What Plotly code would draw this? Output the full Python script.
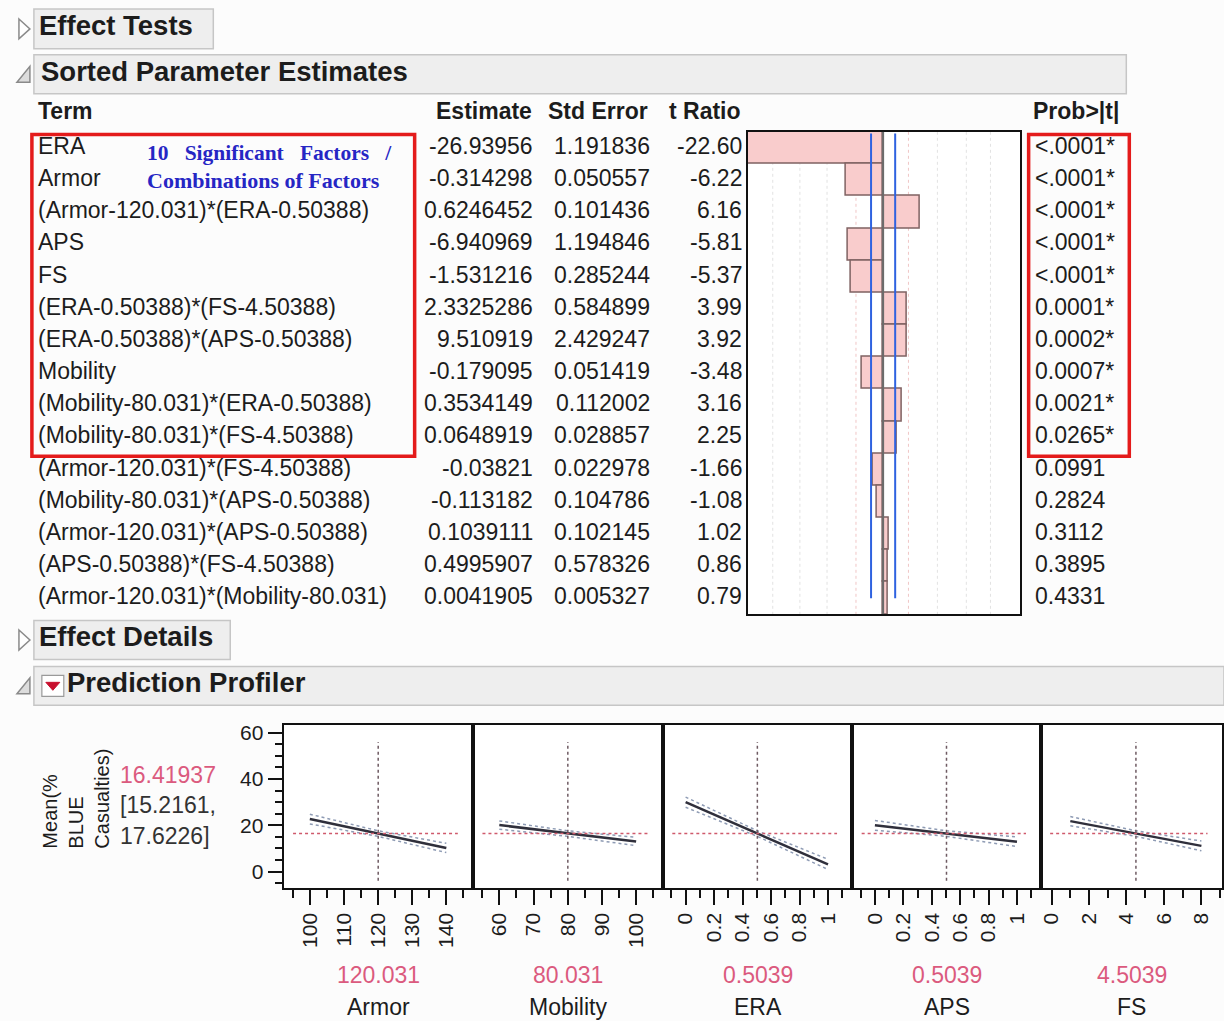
import plotly.graph_objects as go

W, H = 1224, 1021


def X(p):
    return p / W


def Y(p):
    return 1 - p / H


# ------------------------------------------------------------------ data
terms = ["ERA", "Armor", "(Armor-120.031)*(ERA-0.50388)", "APS", "FS",
         "(ERA-0.50388)*(FS-4.50388)", "(ERA-0.50388)*(APS-0.50388)", "Mobility",
         "(Mobility-80.031)*(ERA-0.50388)", "(Mobility-80.031)*(FS-4.50388)",
         "(Armor-120.031)*(FS-4.50388)", "(Mobility-80.031)*(APS-0.50388)",
         "(Armor-120.031)*(APS-0.50388)", "(APS-0.50388)*(FS-4.50388)",
         "(Armor-120.031)*(Mobility-80.031)"]
estimates = ["-26.93956", "-0.314298", "0.6246452", "-6.940969", "-1.531216",
             "2.3325286", "9.510919", "-0.179095", "0.3534149", "0.0648919",
             "-0.03821", "-0.113182", "0.1039111", "0.4995907", "0.0041905"]
std_errors = ["1.191836", "0.050557", "0.101436", "1.194846", "0.285244",
              "0.584899", "2.429247", "0.051419", "0.112002", "0.028857",
              "0.022978", "0.104786", "0.102145", "0.578326", "0.005327"]
t_ratios = [-22.60, -6.22, 6.16, -5.81, -5.37, 3.99, 3.92, -3.48, 3.16, 2.25,
            -1.66, -1.08, 1.02, 0.86, 0.79]
p_values = ["<.0001*", "<.0001*", "<.0001*", "<.0001*", "<.0001*", "0.0001*",
            "0.0002*", "0.0007*", "0.0021*", "0.0265*", "0.0991", "0.2824",
            "0.3112", "0.3895", "0.4331"]
t_critical = [-2.0, 2.0]
ref_t = [-18.3, -13.8, -9.3, -4.5, 4.2, 9.0, 13.8, 17.8]

factors = ["Armor", "Mobility", "ERA", "APS", "FS"]
current_x = [120.031, 80.031, 0.50388, 0.50388, 4.50388]
current_txt = ["120.031", "80.031", "0.5039", "0.5039", "4.5039"]
x_low = [100, 60, 0, 0, 1]
x_high = [140, 100, 1, 1, 8]
mean_low = [22.7, 20.1, 30.0, 20.0, 21.8]
mean_high = [10.2, 13.0, 3.1, 12.9, 11.1]
ci_low_low = [20.6, 18.3, 27.8, 17.9, 19.8]
ci_low_high = [8.2, 11.2, 0.9, 10.8, 9.0]
ci_high_low = [24.8, 21.9, 32.2, 22.1, 23.8]
ci_high_high = [12.2, 14.8, 5.3, 15.0, 13.2]
pred_mean = 16.41937
pred_ci = [15.2161, 17.6226]
x_ticks = [[100, 110, 120, 130, 140], [60, 70, 80, 90, 100],
           [0, 0.2, 0.4, 0.6, 0.8, 1], [0, 0.2, 0.4, 0.6, 0.8, 1], [0, 2, 4, 6, 8]]
x_ticktext = [["100", "110", "120", "130", "140"], ["60", "70", "80", "90", "100"],
              ["0", "0.2", "0.4", "0.6", "0.8", "1"], ["0", "0.2", "0.4", "0.6", "0.8", "1"],
              ["0", "2", "4", "6", "8"]]
x_minor = [5, 5, 0.1, 0.1, 1]
x_ranges = [[92.3, 147.8], [52.3, 107.8], [-0.16, 1.17], [-0.16, 1.17], [-0.56, 9.1]]
y_ticks = [0, 20, 40, 60]
y_range = [-6.9, 63.3]
panel_edges = [282.5, 472.5, 663, 853, 1042.5, 1224]

# ------------------------------------------------------------------ style
FONT = "Liberation Sans, Arial, sans-serif"
INK = "#1c1c1c"
PINK = "#db5a7e"
RED = "#e41b1b"
BODY = 23

fig = go.Figure()
ann = []
shapes = []


def text(x, y, s, size=BODY, color=INK, bold=False, xanchor="left", xref="paper",
         yref="paper", family=FONT, **kw):
    if bold:
        s = "<b>" + s + "</b>"
    ann.append(dict(x=x, y=y, xref=xref, yref=yref, text=s, showarrow=False,
                    xanchor=xanchor, yanchor="middle",
                    font=dict(size=size, color=color, family=family), **kw))


def header(x0, x1, y0, y1, label, tx, closed):
    shapes.append(dict(type="rect", xref="paper", yref="paper", x0=X(x0), x1=X(x1),
                       y0=Y(y1), y1=Y(y0), fillcolor="#eeeeee",
                       line=dict(color="#c6c6c6", width=1.5), layer="below"))
    ym = (y0 + y1) / 2
    if closed:
        path = "M {} {} L {} {} L {} {} Z".format(X(17), Y(ym - 10), X(28), Y(ym), X(17), Y(ym + 10))
        shapes.append(dict(type="path", xref="paper", yref="paper", path=path,
                           fillcolor="white", line=dict(color="#8a8a8a", width=1.5)))
    else:
        path = "M {} {} L {} {} L {} {} Z".format(X(15), Y(ym + 8), X(28), Y(ym + 8), X(28), Y(ym - 8))
        shapes.append(dict(type="path", xref="paper", yref="paper", path=path,
                           fillcolor="#dcdcdc", line=dict(color="#8a8a8a", width=1.5)))
    text(X(tx), Y(ym), label, size=27.5, bold=True, yshift=3)


header(32, 212, 5, 45, "Effect Tests", 35, True)
header(32, 1128, 51, 90, "Sorted Parameter Estimates", 37, False)
header(32, 229, 619, 658, "Effect Details", 35, True)
header(32, 1226, 665, 704, "Prediction Profiler", 63, False)

# dropdown icon
shapes.append(dict(type="rect", xref="paper", yref="paper", x0=X(40), x1=X(62), y0=Y(695), y1=Y(674),
                   fillcolor="white", line=dict(color="#9a9a9a", width=1.2)))
shapes.append(dict(type="path", xref="paper", yref="paper",
                   path="M {} {} L {} {} L {} {} Z".format(X(44), Y(681), X(58), Y(681), X(51), Y(689)),
                   fillcolor="#c8102e", line=dict(color="#c8102e", width=1)))

# ------------------------------------------------------------------ table
text(X(34), Y(110), "Term", bold=True, yshift=3)
text(X(534), Y(110), "Estimate", bold=True, xanchor="right", yshift=3)
text(X(650), Y(110), "Std Error", bold=True, xanchor="right", yshift=3)
text(X(743), Y(110), "t Ratio", bold=True, xanchor="right", yshift=3)
text(X(1032), Y(110), "Prob>|t|", bold=True, yshift=3)

for i in range(len(terms)):
    text(X(34), i, terms[i], yref="y", yshift=2)
    text(X(535), i, estimates[i], yref="y", xanchor="right", yshift=2)
    text(X(652), i, std_errors[i], yref="y", xanchor="right", yshift=2)
    text(X(744), i, "{:.2f}".format(t_ratios[i]), yref="y", xanchor="right", yshift=2)
    text(X(1034), i, p_values[i], yref="y", yshift=2)

# bar chart of t ratios
for r in ref_t:
    shapes.append(dict(type="line", xref="x", yref="y", x0=r, x1=r, y0=-0.5, y1=14.5,
                       line=dict(color="#f0c6c6" if abs(r) < 5 else "#e2e2e2", width=1, dash="dot"),
                       layer="below"))
fig.add_trace(go.Bar(x=t_ratios, y=list(range(len(t_ratios))), orientation="h", width=1.0,
                     marker=dict(color="#f9cccc", line=dict(color="#7f6262", width=1.5)),
                     xaxis="x", yaxis="y", hoverinfo="skip"))
shapes.append(dict(type="line", xref="x", yref="y", x0=0, x1=0, y0=-0.5, y1=14.5,
                   line=dict(color="#6b6b6b", width=2)))
for tc in t_critical:
    shapes.append(dict(type="line", xref="x", yref="y", x0=tc, x1=tc, y0=-0.45, y1=14.0,
                       line=dict(color="#2f62e0", width=2)))

# red highlight boxes and note
shapes.append(dict(type="rect", xref="paper", yref="paper", x0=X(30), x1=X(414), y0=Y(454), y1=Y(131),
                   line=dict(color=RED, width=3.5)))
shapes.append(dict(type="rect", xref="paper", yref="paper", x0=X(1030), x1=X(1131), y0=Y(454), y1=Y(131),
                   line=dict(color=RED, width=3.5)))
SERIF = "Liberation Serif, Times New Roman, serif"
NB = "\u00a0"
text(X(143), Y(152), "10" + NB * 3 + "Significant" + NB * 3 + "Factors" + NB * 3 + "/", size=21.5,
     color="#2626c4", bold=True, family=SERIF, yshift=2)
text(X(143), Y(179), "Combinations" + NB + "of" + NB + "Factors", size=22, color="#2626c4",
     bold=True, family=SERIF, yshift=2)

# ------------------------------------------------------------------ profiler
text(X(74), Y(798), "Mean(%<br>BLUE<br>Casualties)", size=20, xanchor="center", textangle=-90,
     align="left")
text(X(116), Y(776), "{:.5f}".format(pred_mean), size=BODY, color=PINK, yshift=2)
text(X(116), Y(806), "[{:.4f},".format(pred_ci[0]), size=BODY, color="#333333", yshift=2)
text(X(116), Y(837), "{:.4f}]".format(pred_ci[1]), size=BODY, color="#333333", yshift=2)

axis_line = dict(showline=True, mirror=True, linecolor="#111111", linewidth=2,
                 showgrid=False, zeroline=False)

layout_axes = {}
layout_axes["xaxis"] = dict(domain=[X(748.3), X(1021.7)], range=[-22.43, 22.76], anchor="y",
                            showticklabels=False, ticks="", **axis_line)
layout_axes["yaxis"] = dict(domain=[Y(612.7), Y(128.3)], range=[14.5, -0.5], anchor="x",
                            showticklabels=False, ticks="", **axis_line)

for k in range(5):
    n = k + 2
    xa, ya = "x{}".format(n), "y{}".format(n)
    xs = [x_low[k], current_x[k], x_high[k]]
    fig.add_trace(go.Scatter(x=xs, y=[ci_high_low[k], pred_ci[1], ci_high_high[k]], mode="lines",
                             line=dict(color="#8e9bb4", width=1.5, dash="dot"), xaxis=xa, yaxis=ya,
                             hoverinfo="skip"))
    fig.add_trace(go.Scatter(x=xs, y=[ci_low_low[k], pred_ci[0], ci_low_high[k]], mode="lines",
                             line=dict(color="#8e9bb4", width=1.5, dash="dot"), xaxis=xa, yaxis=ya,
                             hoverinfo="skip"))
    fig.add_trace(go.Scatter(x=xs, y=[mean_low[k], pred_mean, mean_high[k]], mode="lines",
                             line=dict(color="#30303c", width=2.5), xaxis=xa, yaxis=ya,
                             hoverinfo="skip"))
    shapes.append(dict(type="line", xref=xa + " domain", yref=ya, x0=0.05, x1=0.92,
                       y0=pred_mean, y1=pred_mean, line=dict(color="#cf5a6c", width=1.5, dash="dot")))
    shapes.append(dict(type="line", xref=xa, yref=ya, x0=current_x[k], x1=current_x[k],
                       y0=-4, y1=56, line=dict(color="#6e5a62", width=1.5, dash="dot")))

    layout_axes["xaxis{}".format(n)] = dict(
        domain=[X(panel_edges[k]), X(panel_edges[k + 1])], range=x_ranges[k], anchor=ya,
        tickmode="array", tickvals=x_ticks[k], ticktext=x_ticktext[k], tickangle=-90,
        ticks="outside", ticklen=15, tickwidth=1.5, tickcolor="#111111",
        tickfont=dict(size=21, color=INK, family=FONT),
        minor=dict(dtick=x_minor[k], tick0=0, ticks="outside", ticklen=8, tickwidth=1.5,
                   tickcolor="#111111", showgrid=False),
        **axis_line)
    ydef = dict(domain=[Y(887), Y(724)], range=y_range, anchor=xa, **axis_line)
    if k == 0:
        ydef.update(tickmode="array", tickvals=y_ticks, ticks="outside", ticklen=14, tickwidth=1.5,
                    tickcolor="#111111", tickfont=dict(size=21, color=INK, family=FONT),
                    minor=dict(dtick=5, tick0=0, ticks="outside", ticklen=7, tickwidth=1.5,
                               tickcolor="#111111", showgrid=False))
    else:
        ydef.update(showticklabels=False, ticks="")
    layout_axes["yaxis{}".format(n)] = ydef

    text(0.5, Y(975), current_txt[k], size=BODY, color=PINK, xanchor="center", xref=xa + " domain")
    text(0.5, Y(1007), factors[k], size=BODY, xanchor="center", xref=xa + " domain")

fig.update_layout(width=W, height=H, margin=dict(l=0, r=0, t=0, b=0), autosize=False,
                  paper_bgcolor="#fcfcfc", plot_bgcolor="white", showlegend=False,
                  font=dict(family=FONT, color=INK), bargap=0,
                  annotations=ann, shapes=shapes, **layout_axes)

fig.write_html("out.html", config={"displayModeBar": False},
               post_script="document.body.style.margin='0';document.body.style.overflow='hidden';")
